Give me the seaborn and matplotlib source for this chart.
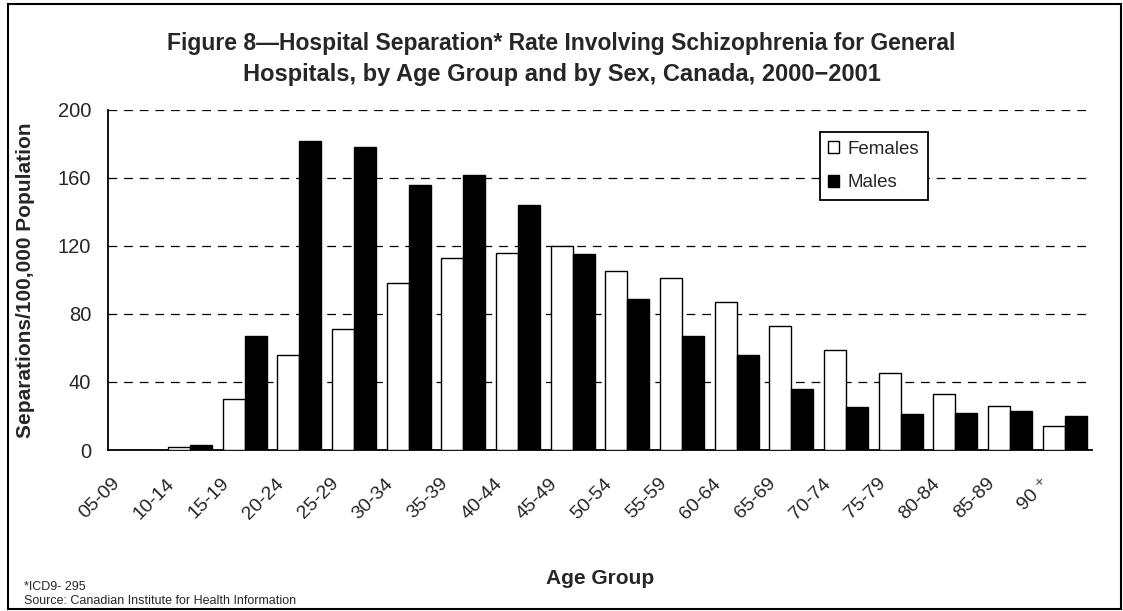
import pandas as pd
import matplotlib.pyplot as plt
import matplotlib.transforms as mtransforms
import seaborn as sns
from matplotlib.patches import Rectangle

age_groups = ["05-09", "10-14", "15-19", "20-24", "25-29", "30-34", "35-39",
              "40-44", "45-49", "50-54", "55-59", "60-64", "65-69", "70-74",
              "75-79", "80-84", "85-89", "90+"]
females = [0, 2, 30, 56, 71, 98, 113, 116, 120, 105, 101, 87, 73, 59, 45, 33, 26, 14]
males = [0, 3, 67, 182, 178, 156, 162, 144, 115, 89, 67, 56, 36, 25, 21, 22, 23, 20]
y_ticks = [0, 40, 80, 120, 160, 200]

df = pd.DataFrame({
    "age": age_groups * 2,
    "rate": females + males,
    "sex": ["Females"] * len(age_groups) + ["Males"] * len(age_groups),
})

sns.set_style("white")
plt.rcParams["font.family"] = ["Liberation Sans", "DejaVu Sans"]

fig = plt.figure(figsize=(11.23, 6.11), dpi=100)
ax = fig.add_axes([0.0962, 0.2635, 0.8762, 0.5565])

sns.barplot(
    data=df, x="age", y="rate", hue="sex",
    palette={"Females": "white", "Males": "black"},
    edgecolor="black", linewidth=1, width=0.8, ax=ax, zorder=3
)

# dashed grid behind the bars
ax.set_ylim(0, 200)
ax.set_xlim(-0.5, len(age_groups) - 0.5)
ax.set_yticks(y_ticks)
ax.set_yticklabels([str(v) for v in y_ticks], fontsize=14.5)
ax.yaxis.grid(True, linestyle=(0, (7, 5.5)), color="black", linewidth=0.9)
ax.set_axisbelow(True)

# category labels at centres, tick marks at the boundaries
ax.set_xticks(range(len(age_groups)))
ax.set_xticklabels([a.replace("+", " \u207a") for a in age_groups],
                   rotation=45, ha="right", fontsize=14)
ax.set_xticks([i - 0.5 for i in range(len(age_groups) + 1)], minor=True)
ax.tick_params(axis="x", which="major", length=0, pad=18)
ax.tick_params(axis="x", which="minor", length=5, width=1.2, color="black", direction="out")
ax.tick_params(axis="y", length=6, width=1.2, color="black", direction="out", pad=6)

shift = mtransforms.ScaledTranslation(-0.12, 0, fig.dpi_scale_trans)
for lbl in ax.get_xticklabels():
    lbl.set_transform(lbl.get_transform() + shift)

for side in ["top", "right"]:
    ax.spines[side].set_visible(False)
for side in ["left", "bottom"]:
    ax.spines[side].set_color("black")
    ax.spines[side].set_linewidth(1.3)

ax.set_xlabel("")
ax.set_ylabel("Separations/100,000 Population", fontsize=15, fontweight="bold")
ax.yaxis.set_label_coords(-0.0742, 0.5)

leg = ax.legend(
    loc="upper left", bbox_to_anchor=(0.7236, 0.935), borderaxespad=0,
    fontsize=13.5, frameon=True, fancybox=False, edgecolor="black",
    framealpha=1, handlelength=0.57, handleheight=0.57, handletextpad=0.45,
    labelspacing=0.9, borderpad=0.45
)
leg.get_frame().set_linewidth(1.3)
leg.set_zorder(5)

fig.text(0.5, 1 - 50 / 611,
         "Figure 8\u2014Hospital Separation* Rate Involving Schizophrenia for General",
         ha="center", va="baseline", fontsize=16.5, fontweight="bold")
fig.text(0.5, 1 - 81 / 611,
         "Hospitals, by Age Group and by Sex, Canada, 2000\u22122001",
         ha="center", va="baseline", fontsize=17, fontweight="bold")
fig.text(0.534, 1 - 578 / 611, "Age Group", ha="center", va="center",
         fontsize=15, fontweight="bold")
fig.text(0.021, 1 - 587 / 611, "*ICD9- 295", ha="left", va="center", fontsize=9)
fig.text(0.021, 1 - 601 / 611, "Source: Canadian Institute for Health Information",
         ha="left", va="center", fontsize=9)

# frame around the whole chart
fig.patches.append(Rectangle((0.007, 0.003), 0.991, 0.99, transform=fig.transFigure,
                             fill=False, edgecolor="black", linewidth=1.5))

plt.savefig("out.png", dpi=100)
plt.close()
